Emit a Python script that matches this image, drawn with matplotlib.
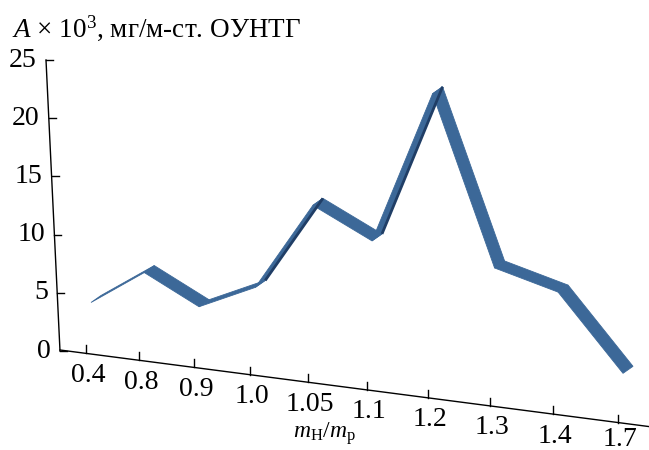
import numpy as np
import matplotlib
matplotlib.use('Agg')
import matplotlib.pyplot as plt
import matplotlib.transforms as mtransforms
from matplotlib.patches import Polygon
from matplotlib.lines import Line2D

# ---- data ----
categories = ['0.4', '0.8', '0.9', '1.0', '1.05', '1.1', '1.2', '1.3', '1.4', '1.7']
values = [4.3, 7.1, 4.4, 6.3, 13.6, 10.8, 23.7, 9.0, 7.2, 0.5]
y_ticks = [0, 5, 10, 15, 20, 25]
y_title = r'$A$ × 10$^3$, мг/м-ст. ОУНТГ'
x_title = r'$m_{\mathrm{Н}}/m_{\mathrm{р}}$'

plt.rcParams['font.family'] = ['Liberation Serif', 'DejaVu Serif']
plt.rcParams['mathtext.fontset'] = 'custom'
plt.rcParams['mathtext.rm'] = 'Liberation Serif'
plt.rcParams['mathtext.it'] = 'Liberation Serif:italic'

W, H, DPI = 649, 450, 100
fig = plt.figure(figsize=(W / DPI, H / DPI), dpi=DPI)

# perspective-like category scale
B, C = 52.56, 0.728
def fwd(i):
    i = np.asarray(i, float)
    return B * i + C * i * i
def inv(u):
    u = np.asarray(u, float)
    return (-B + np.sqrt(np.maximum(B * B + 4 * C * u, 0))) / (2 * C)

n = len(categories)
x_left = 91.0
x_right = x_left + float(fwd(n - 1))
y0_img = 351.0
yscale = 11.64
ax = fig.add_axes([x_left / W, (H - y0_img) / H, (x_right - x_left) / W, 25 * yscale / H])
ax.set_xscale('function', functions=(fwd, inv))
ax.set_xlim(0, n - 1)
ax.set_ylim(0, 25)
ax.axis('off')

I = mtransforms.IdentityTransform()

# skew of the back (ribbon) plane
s = 0.05
skew = mtransforms.Affine2D.from_values(1, -s, 0, 1, 0, s * 60)
T = ax.transData + skew

front = T.transform(np.column_stack([np.arange(n), values]))
d = np.array([10.0, 7.0])

light = '#3C6898'
dark = '#203E66'
rising = []
falling = []
for k in range(n - 1):
    p0, p1 = front[k], front[k + 1]
    v = p1 - p0
    cr = v[0] * d[1] - v[1] * d[0]
    poly = np.array([p0, p1, p1 + d, p0 + d])
    (falling if cr > 0 else rising).append(poly)

for poly in rising:
    fig.add_artist(Polygon(poly, closed=True, facecolor=light, edgecolor=light,
                           lw=0.6, transform=I))
    fig.add_artist(Line2D([poly[3][0], poly[2][0]], [poly[3][1], poly[2][1]],
                          color=dark, lw=2.0, transform=I, solid_capstyle='butt'))
for poly in falling:
    fig.add_artist(Polygon(poly, closed=True, facecolor=light, edgecolor=light,
                           lw=0.6, transform=I))

FS = 20

# ---- floor (category axis) ----
def floor_y(xd):
    # display y of the floor line at display x
    return (H - 350.0) - 0.13 * (xd - 60.0)

fig.add_artist(Line2D([60, W], [floor_y(60), floor_y(W)], color='black', lw=1.0, transform=I))
tick_x = ax.transData.transform(np.column_stack([np.arange(n), np.zeros(n)]))[:, 0] - 5
for xt, lab in zip(tick_x, categories):
    yb = floor_y(xt)
    fig.add_artist(Line2D([xt, xt], [yb, yb + 8], color='black', lw=1.0, transform=I))
    yl = max(yb - 22, 11)
    fig.text(xt + 2, yl, lab, transform=I, ha='center', va='center', fontsize=FS)

# ---- value axis ----
def yaxis_x(v):
    return 60.0 - 14.0 * v / 25.0
ty = ax.transData.transform(np.column_stack([np.zeros(len(y_ticks)), y_ticks]))[:, 1]
fig.add_artist(Line2D([yaxis_x(0), yaxis_x(25)], [ty[0], ty[-1]], color='black', lw=1.0, transform=I))
for v, yy in zip(y_ticks, ty):
    xa = yaxis_x(v)
    fig.add_artist(Line2D([xa, xa + 7], [yy, yy], color='black', lw=1.0, transform=I))
    fig.text(xa - 9, yy, str(v), transform=I, ha='right', va='center', fontsize=FS)

fig.text(12, H - 28, y_title, transform=I, ha='left', va='center', fontsize=19.5)
fig.text(324, H - 438, x_title, transform=I, ha='center', va='baseline', fontsize=17)

fig.savefig('out.png', dpi=DPI)
